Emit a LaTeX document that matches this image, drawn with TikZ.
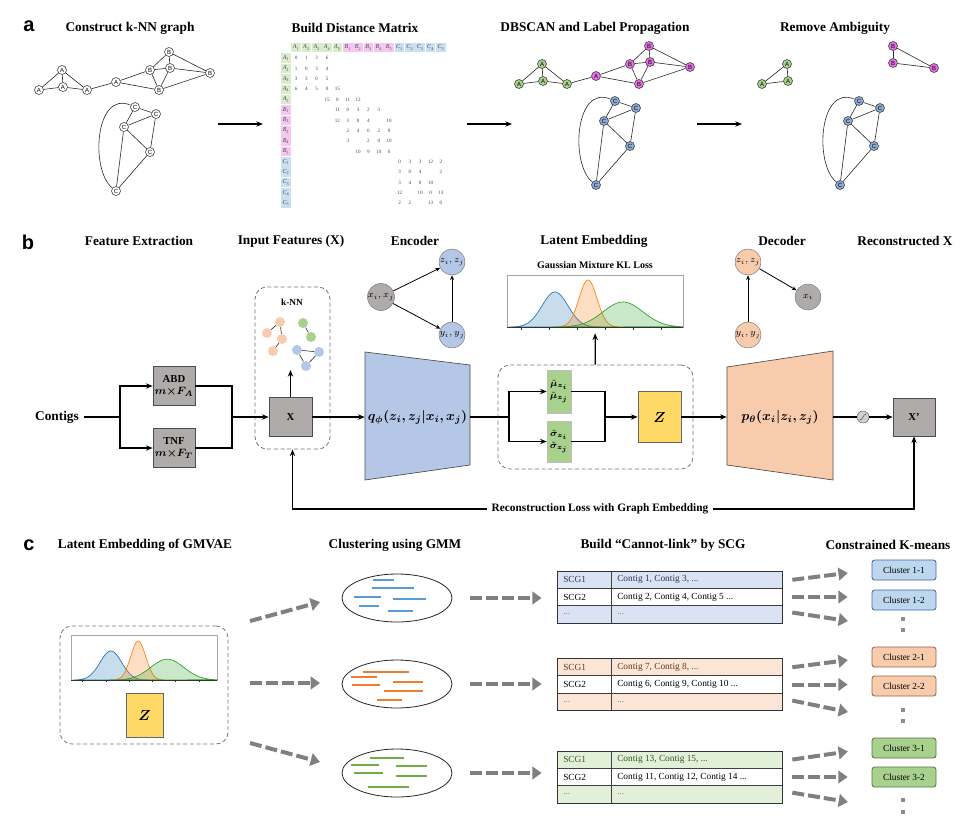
\documentclass[tikz,border=0pt]{standalone}
\usepackage{fontspec}
\setmainfont{Liberation Serif}
\newfontfamily\letterfont{Liberation Sans}
\usepackage{amsmath,bm}
\usetikzlibrary{arrows.meta,shapes.geometric}

\definecolor{boxgray}{RGB}{175,171,171}
\definecolor{encblue}{RGB}{180,199,231}
\definecolor{decpeach}{RGB}{248,203,173}
\definecolor{latgreen}{RGB}{169,209,142}
\definecolor{zyellow}{RGB}{255,217,102}
\definecolor{gA}{RGB}{169,209,142}
\definecolor{gB}{RGB}{232,112,232}
\definecolor{gC}{RGB}{140,172,214}
\definecolor{mA}{RGB}{218,236,204}
\definecolor{mB}{RGB}{246,200,240}
\definecolor{mC}{RGB}{204,222,242}
\definecolor{mTx}{RGB}{60,70,95}
\definecolor{kOr}{RGB}{248,203,173}
\definecolor{kGr}{RGB}{169,209,142}
\definecolor{kBl}{RGB}{180,199,231}
\definecolor{sBlue}{RGB}{91,155,213}
\definecolor{sOrange}{RGB}{237,125,49}
\definecolor{sGreen}{RGB}{112,173,71}
\definecolor{pBlue}{RGB}{31,119,180}
\definecolor{pOrange}{RGB}{255,127,14}
\definecolor{pGreen}{RGB}{44,160,44}
\definecolor{tBlue}{RGB}{218,227,243}
\definecolor{tOrange}{RGB}{251,229,214}
\definecolor{tGreen}{RGB}{226,240,217}
\definecolor{tBlueTx}{RGB}{40,55,90}
\definecolor{tOrangeTx}{RGB}{110,55,20}
\definecolor{tGreenTx}{RGB}{50,90,30}
\definecolor{clBlue}{RGB}{189,215,238}
\definecolor{clOrange}{RGB}{248,203,173}
\definecolor{clGreen}{RGB}{169,209,142}
\definecolor{clBlueD}{RGB}{70,100,150}
\definecolor{clOrangeD}{RGB}{150,100,70}
\definecolor{clGreenD}{RGB}{80,120,60}
\definecolor{arrgray}{RGB}{128,128,128}

% k-NN graph of panel a (pixel positions)
\newcommand{\knnab}{a1/39/90/A/A, a2/62/70/A/A, a3/63/87/A/A, a4/87/90/A/A, a5/116/82/A/B,
  b1/150/70/B/B, b2/169/52/B/B, b3/170/68/B/B, b4/210/73/B/B, b5/159/90/B/B}
\newcommand{\knnc}{c1/135/107/C/C, c2/156/114/C/C, c3/124/127/C/C, c4/150/152/C/C, c5/116/191/C/C}
\newcommand{\knnabedges}{a1/a2, a1/a3, a2/a3, a2/a4, a3/a4, a4/a5, a5/b1, a5/b5,
  b1/b2, b1/b3, b1/b5, b2/b3, b2/b4, b3/b4, b3/b5, b5/b4}
\newcommand{\knncedges}{c1/c2, c1/c3, c2/c3, c3/c4, c2/c4, c3/c5, c4/c5}

% the three gaussians of the mixture
\newcommand{\gmmcurves}{%
  \foreach \m/\s/\h/\cc in {48/13/35/pBlue, 81/9/47/pOrange, 116/20/25/pGreen}
    \draw[draw=\cc, fill=\cc, fill opacity=0.25, line width=0.5pt]
      plot[domain={max(\m-3.5*\s,0)}:{min(\m+3.5*\s,176)}, samples=60, smooth] (\x,{-\h*exp(-0.5*((\x-\m)/\s)^2)}) -- cycle;
  \draw[black!80, line width=0.4pt] (0,0) -- (176,0);
  \foreach \tk in {14,42,...,170}
    \draw[black!80, line width=0.4pt] (\tk,0) -- (\tk,2.5);
}

\begin{document}
\begin{tikzpicture}[x=0.75pt, y=-0.75pt,
  title/.style={font=\bfseries\fontsize{10}{12}\selectfont},
  letter/.style={font=\letterfont\bfseries\fontsize{15}{18}\selectfont},
  gnode/.style={circle, draw=black!80, fill=white, line width=0.4pt, minimum size=6.75pt, inner sep=0pt, font=\letterfont\fontsize{4.5}{5}\selectfont},
  gedge/.style={black!85, line width=0.45pt},
  mcell/.style={minimum size=7.2pt, inner sep=0pt, text=mTx, font=\fontsize{4.5}{5}\selectfont},
  mval/.style={inner sep=0pt, text=mTx, font=\fontsize{3.8}{4}\selectfont},
  arr/.style={line width=1pt, -{Stealth[length=5pt, width=4pt]}},
  ln/.style={line width=1pt},
  sarr/.style={line width=0.6pt, -{Stealth[length=3.5pt, width=3pt]}},
  gbox/.style={rectangle, draw=black!70, fill=boxgray, line width=0.5pt, minimum width=31.5pt, minimum height=29.25pt, inner sep=1pt, align=center, font=\bfseries\fontsize{8}{9.5}\selectfont},
  dbox/.style={rectangle, rounded corners=9pt, draw=black!55, dash pattern=on 3pt off 2pt, line width=0.6pt},
  pnode/.style={circle, draw=black!50, line width=0.4pt, minimum size=19.5pt, inner sep=0pt, font=\fontsize{7}{8}\selectfont},
  kdot/.style={circle, minimum size=7.5pt, inner sep=0pt},
  lbox/.style={rectangle, draw=black!25, fill=latgreen, minimum width=18pt, inner sep=0.5pt, align=center, font=\fontsize{7}{9}\selectfont},
  zbox/.style={rectangle, draw=black!60, fill=zyellow, line width=0.5pt, inner sep=0pt, font=\fontsize{11}{13}\selectfont},
  pframe/.style={rectangle, draw=black!35, line width=0.5pt, inner sep=0pt},
  fatarr/.style={draw=arrgray, line width=3pt, dash pattern=on 9pt off 3pt, -{Triangle[length=7pt, width=9.5pt]}},
  seg/.style={line width=1.5pt},
  tabtext/.style={anchor=west, inner sep=0pt, font=\fontsize{7}{8}\selectfont},
  tabline/.style={draw=black!75, line width=0.5pt},
  clbox/.style={rectangle, rounded corners=2pt, line width=0.6pt, minimum width=48pt, minimum height=15pt, inner sep=0pt, font=\fontsize{7}{8}\selectfont},
  vdot/.style={rectangle, fill=arrgray!90, minimum size=3.5pt, inner sep=0pt}
]
\useasboundingbox (0,0) rectangle (964,826);

% ================= panel a =================
\node[letter] (la) at (29,26) {a};
\node[title] (ta1) at (130,28) {Construct k-NN graph};
\node[title] (ta2) at (355,28) {Build Distance Matrix};
\node[title] (ta3) at (595,28) {DBSCAN and Label Propagation};
\node[title] (ta4) at (835,28) {Remove Ambiguity};

% k-NN graph
\foreach \n/\px/\py/\lab/\col in \knnab
  \node[gnode] (k\n) at (\px,\py) {\lab};
\foreach \n/\px/\py/\lab/\col in \knnc
  \node[gnode] (k\n) at (\px,\py) {\lab};
\foreach \u/\v in \knnabedges
  \draw[gedge] (k\u) -- (k\v);
\foreach \u/\v in \knncedges
  \draw[gedge] (k\u) -- (k\v);
\draw[gedge] (kc1) .. controls (95,90) and (90,170) .. (kc5);

% distance matrix
\foreach \g/\k [count=\i] in {A/1,A/2,A/3,A/4,A/5,B/1,B/2,B/3,B/4,B/5,C/1,C/2,C/3,C/4,C/5} {
  \node[mcell, fill=m\g] (mh\i) at (285.7+10.35*\i,47.5) {\textit{\g}\textsubscript{\k}};
  \node[mcell, fill=m\g] (mr\i) at (286,47.9+10.35*\i) {\textit{\g}\textsubscript{\k}};
}
\foreach \r/\cl/\v in {1/1/0, 1/2/1, 1/3/3, 1/4/6, 2/1/1, 2/2/0, 2/3/3, 2/4/4,
    3/1/3, 3/2/3, 3/3/0, 3/4/5, 4/1/6, 4/2/4, 4/3/5, 4/4/0, 4/5/15,
    5/4/15, 5/5/0, 5/6/11, 5/7/12, 6/5/11, 6/6/0, 6/7/3, 6/8/2, 6/9/3,
    7/5/12, 7/6/3, 7/7/0, 7/8/4, 7/10/10, 8/6/2, 8/7/4, 8/8/0, 8/9/2, 8/10/9,
    9/6/3, 9/8/2, 9/9/0, 9/10/10, 10/7/10, 10/8/9, 10/9/10, 10/10/0,
    11/11/0, 11/12/3, 11/13/3, 11/14/12, 11/15/2, 12/11/3, 12/12/0, 12/13/4, 12/15/2,
    13/11/3, 13/12/4, 13/13/0, 13/14/10, 14/11/12, 14/13/10, 14/14/0, 14/15/13,
    15/11/2, 15/12/2, 15/14/13, 15/15/0}
  \node[mval] (mv\r-\cl) at (285.7+10.35*\cl,47.9+10.35*\r) {\v};

% DBSCAN and label propagation
\begin{scope}[shift={(480,-6)}]
  \foreach \n/\px/\py/\lab/\col in \knnab
    \node[gnode, fill=g\col] (d\n) at (\px,\py) {\lab};
  \foreach \n/\px/\py/\lab/\col in \knnc
    \node[gnode, fill=g\col] (d\n) at (\px,\py) {\lab};
  \foreach \u/\v in \knnabedges
    \draw[gedge] (d\u) -- (d\v);
  \foreach \u/\v in \knncedges
    \draw[gedge] (d\u) -- (d\v);
  \draw[gedge] (dc1) .. controls (95,90) and (90,170) .. (dc5);
\end{scope}

% remove ambiguity
\foreach \n/\px/\py/\lab in {a1/762/84/A, a2/787/64/A, a3/788/81/A}
  \node[gnode, fill=gA] (r\n) at (\px,\py) {\lab};
\foreach \n/\px/\py/\lab in {b1/893/46/B, b2/893/63/B, b3/934/68/B}
  \node[gnode, fill=gB] (r\n) at (\px,\py) {\lab};
\foreach \u/\v in {a1/a2, a1/a3, a2/a3, b1/b2, b1/b3, b2/b3}
  \draw[gedge] (r\u) -- (r\v);
\begin{scope}[shift={(724,-6)}]
  \foreach \n/\px/\py/\lab/\col in \knnc
    \node[gnode, fill=gC] (r\n) at (\px,\py) {\lab};
  \foreach \u/\v in \knncedges
    \draw[gedge] (r\u) -- (r\v);
  \draw[gedge] (rc1) .. controls (95,90) and (90,170) .. (rc5);
\end{scope}

% arrows between the steps
\foreach \i/\xs in {1/218, 2/467, 3/697} {
  \coordinate (as\i) at (\xs,124);
  \coordinate (ae\i) at (\xs+45,124);
  \draw[arr] (as\i) -- (ae\i);
}

% ================= panel b =================
\node[letter] (lb) at (28,242) {b};
\node[title] (tb1) at (139,241) {Feature Extraction};
\node[title] (tb2) at (291,241) {Input Features (X)};
\node[title] (tb3) at (415,241) {Encoder};
\node[title] (tb4) at (594,241) {Latent Embedding};
\node[title] (tb5) at (782,241) {Decoder};
\node[title] (tb6) at (905,241) {Reconstructed X};

% feature extraction
\node[font=\bfseries\fontsize{10}{12}\selectfont] (contigs) at (57,417) {Contigs};
\coordinate (sp1) at (120,417);
\coordinate (jn1) at (232,417);
\node[gbox] (abd) at (174,386) {ABD\\[-1pt]$\bm{m{\times}F_A}$};
\node[gbox] (tnf) at (174,448) {TNF\\[-1pt]$\bm{m{\times}F_T}$};
\draw[ln] (contigs) -- (sp1);
\draw[arr] (sp1) |- (abd);
\draw[arr] (sp1) |- (tnf);
\draw[ln] (abd) -| (jn1);
\draw[ln] (tnf) -| (jn1);

% input features with k-NN
\node[dbox, minimum width=56.25pt, minimum height=121.5pt] (knnbox) at (292.5,368) {};
\node[gbox, minimum width=32.25pt] (xin) at (290.5,417) {X};
\node[font=\bfseries\fontsize{7}{8}\selectfont] (knn) at (292,302) {k-NN};
\foreach \n/\px/\py/\col in {o1/280/322/kOr, o2/267/333/kOr, o3/282/339/kOr, o4/273/351/kOr,
    g1/303/323/kGr, g2/311/337/kGr, b1/297/350/kBl, b2/319/352/kBl, b3/306/366/kBl}
  \node[kdot, fill=\col] (n\n) at (\px,\py) {};
\foreach \u/\v in {o1/o2, o1/o3, o3/o4, g1/g2, b1/b2, b1/b3, b2/b3}
  \draw[gedge] (n\u) -- (n\v);
\coordinate (knntop) at (290.5,370);
\draw[arr] (jn1) -- (xin);
\draw[arr] (xin) -- (knntop);

% encoder
\draw[draw=black!70, fill=encblue, line width=0.5pt] (365,352) -- (470,365) -- (470,465) -- (365,480) -- cycle;
\node[minimum width=78.75pt, minimum height=75pt, inner sep=0pt, font=\fontsize{10}{12}\selectfont] (enc) at (417.5,417) {$\bm{q_{\phi}(z_i,z_j|x_i,x_j)}$};
\draw[arr] (xin) -- (enc);
\node[pnode, fill=boxgray] (ex) at (381,297) {$x_i, x_j$};
\node[pnode, fill=encblue] (ez) at (452,262) {$z_i, z_j$};
\node[pnode, fill=encblue] (ey) at (452,335) {$y_i, y_j$};
\draw[sarr] (ex) -- (ez);
\draw[sarr] (ex) -- (ey);
\draw[sarr] (ey) -- (ez);

% latent embedding
\node[dbox, minimum width=146.25pt, minimum height=78pt] (latbox) at (595.5,417) {};
\coordinate (sp2) at (509,417);
\coordinate (jn2) at (605,417);
\node[lbox, minimum height=32.25pt] (mu) at (559,391.5) {$\bm{\tilde{\mu}_{z_i}}$\\$\bm{\tilde{\mu}_{z_j}}$};
\node[lbox, minimum height=30.75pt] (sig) at (559,441.5) {$\bm{\tilde{\sigma}_{z_i}}$\\$\bm{\tilde{\sigma}_{z_j}}$};
\node[zbox, minimum width=32.25pt, minimum height=38.25pt] (zb) at (659.5,417) {$\bm{Z}$};
\draw[ln] (enc) -- (sp2);
\draw[arr] (sp2) |- (mu);
\draw[arr] (sp2) |- (sig);
\draw[ln] (mu) -| (jn2);
\draw[ln] (sig) -| (jn2);
\draw[arr] (jn2) -- (zb);

\node[font=\bfseries\fontsize{7.5}{9}\selectfont] (kl) at (595,265) {Gaussian Mixture KL Loss};
\node[pframe, minimum width=132pt, minimum height=39pt] (gmmb) at (595,301) {};
\begin{scope}[shift={(507,327)}]
  \gmmcurves
\end{scope}
\draw[arr, shorten >=4.5pt] (latbox) -- (gmmb);

% decoder
\draw[draw=black!70, fill=decpeach, line width=0.5pt] (727,367) -- (833,351) -- (833,480) -- (727,465) -- cycle;
\node[minimum width=79.5pt, minimum height=75pt, inner sep=0pt, font=\fontsize{10}{12}\selectfont] (dec) at (780,417) {$\bm{p_{\theta}(x_i|z_i,z_j)}$};
\draw[arr] (zb) -- (dec);
\node[pnode, fill=decpeach] (dz) at (748,262) {$z_i, z_j$};
\node[pnode, fill=boxgray] (dx) at (808,297) {$x_i$};
\node[pnode, fill=decpeach] (dy) at (748,335) {$y_i, y_j$};
\draw[sarr] (dz) -- (dx);
\draw[sarr] (dy) -- (dz);

% reconstructed X
\node[circle, draw=black!60, fill=black!18, line width=0.4pt, minimum size=9pt, inner sep=0pt] (sgm) at (863,417) {};
\draw[black!70, line width=0.4pt] (859.5,420) .. controls (864,420) and (862,414) .. (866.5,414);
\node[gbox, minimum height=28.5pt] (xout) at (914,417) {X'};
\draw[ln] (dec) -- (sgm);
\draw[arr] (sgm) -- (xout);

% reconstruction loss
\node[font=\bfseries\fontsize{8.5}{10}\selectfont] (recloss) at (600,509) {Reconstruction Loss with Graph Embedding};
\draw[arr] (recloss) -| (xout);
\draw[arr] (recloss) -| (knnbox);

% ================= panel c =================
\node[letter] (lc) at (29,545) {c};
\node[title] (tc1) at (145,545) {Latent Embedding of GMVAE};
\node[title] (tc2) at (395,545) {Clustering using GMM};
\node[title] (tc3) at (663,545) {Build ``Cannot-link'' by SCG};
\node[title] (tc4) at (888,545) {Constrained K-means};

% latent embedding of GMVAE
\node[dbox, minimum width=126pt, minimum height=88.5pt] (latc) at (144,685) {};
\node[pframe, minimum width=109.5pt, minimum height=33.75pt] (gmmc) at (144,657.5) {};
\begin{scope}[shift={(71,680)}, scale=0.83]
  \gmmcurves
\end{scope}
\node[zbox, minimum width=27.75pt, minimum height=33pt] (zc) at (144.5,715) {$\bm{Z}$};
\foreach \i/\ya/\yb in {1/621/602, 2/683/683, 3/743/762} {
  \coordinate (fs\i) at (250,\ya);
  \coordinate (fe\i) at (320,\yb);
  \draw[fatarr] (fs\i) -- (fe\i);
}

% clustering using GMM
\foreach \i/\yc in {1/598, 2/684, 3/773}
  \node[ellipse, draw=black!85, line width=0.6pt, minimum width=82.5pt, minimum height=36pt] (ell\i) at (397,\yc) {};
\foreach \xa/\xb/\y in {373/394/580, 372/414/588, 354/381/597, 393/426/599, 359/379/606, 388/413/611}
  \draw[seg, sBlue] (\xa,\y) -- (\xb,\y);
\foreach \xa/\xb/\y in {363/409/672, 351/377/677, 393/423/682, 352/380/685, 384/423/691, 377/402/700}
  \draw[seg, sOrange] (\xa,\y) -- (\xb,\y);
\foreach \xa/\xb/\y in {370/404/758, 351/379/765, 396/427/766, 354/383/773, 396/427/776, 368/409/787}
  \draw[seg, sGreen] (\xa,\y) -- (\xb,\y);

% cannot-link tables
\foreach \nt/\yc/\fl/\tx/\ra/\rb in {1/597/tBlue/tBlueTx/{Contig 1, Contig 3, ...}/{Contig 2, Contig 4, Contig 5 ...},
    2/684.5/tOrange/tOrangeTx/{Contig 7, Contig 8, ...}/{Contig 6, Contig 9, Contig 10 ...},
    3/777/tGreen/tGreenTx/{Contig 13, Contig 15, ...}/{Contig 11, Contig 12, Contig 14 ...}} {
  \fill[\fl] (557,\yc-26) rectangle (782,\yc-8.7);
  \fill[\fl] (557,\yc+8.7) rectangle (782,\yc+26);
  \draw[tabline] (557,\yc-8.7) -- (782,\yc-8.7) (557,\yc+8.7) -- (782,\yc+8.7) (611,\yc-26) -- (611,\yc+26);
  \node[draw=black!80, line width=0.6pt, minimum width=168.75pt, minimum height=39pt, inner sep=0pt] (tab\nt) at (669.5,\yc) {};
  \node[tabtext, text=\tx] (s\nt-1) at (563,\yc-17.3) {SCG1};
  \node[tabtext, text=\tx] (c\nt-1) at (617,\yc-17.3) {\ra};
  \node[tabtext] (s\nt-2) at (563,\yc) {SCG2};
  \node[tabtext] (c\nt-2) at (617,\yc) {\rb};
  \node[tabtext, text=black!50] (s\nt-3) at (563,\yc+17.3) {...};
  \node[tabtext, text=black!50] (c\nt-3) at (617,\yc+17.3) {...};
  \draw[fatarr, shorten <=13.5pt, shorten >=11.25pt] (ell\nt.east) -- (ell\nt.east -| tab\nt.west);
}

% constrained K-means
\foreach \nt/\ya/\yb/\yd/\ye/\fl/\bd in {1/570/600/619/630/clBlue/clBlueD,
    2/657/686/710/721/clOrange/clOrangeD, 3/748/777/800/812/clGreen/clGreenD} {
  \node[clbox, fill=\fl, draw=\bd] (cl\nt-1) at (904,\ya) {Cluster \nt-1};
  \node[clbox, fill=\fl, draw=\bd] (cl\nt-2) at (904,\yb) {Cluster \nt-2};
  \node[vdot] (dt\nt-1) at (903,\yd) {};
  \node[vdot] (dt\nt-2) at (903,\ye) {};
  \coordinate (mr\nt) at (848,\yd+2);
  \draw[fatarr, shorten <=7.5pt, shorten >=18pt] ([yshift=12pt]tab\nt.east) -- (cl\nt-1.west);
  \draw[fatarr, shorten <=7.5pt, shorten >=18pt] (tab\nt.east) -- (tab\nt.east -| cl\nt-2.west);
  \draw[fatarr, shorten <=7.5pt] ([yshift=-10.5pt]tab\nt.east) -- (mr\nt);
}

\end{tikzpicture}
\end{document}
